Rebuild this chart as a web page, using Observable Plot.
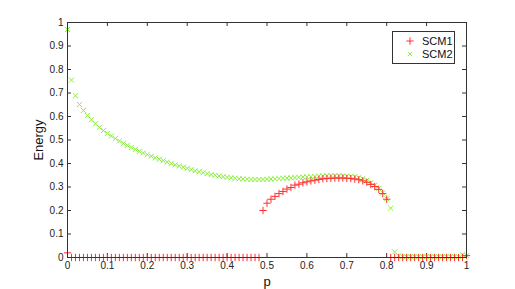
<!DOCTYPE html>
<html><head><meta charset="utf-8">
<script src="https://cdn.jsdelivr.net/npm/d3@7"></script>
<script src="https://cdn.jsdelivr.net/npm/@observablehq/plot@0.6"></script>
<style>
body{margin:0;background:#fff;}
#wrap{position:relative;width:515px;height:289px;font-family:"Liberation Sans",Arial,sans-serif;}
#legend{position:absolute;left:392px;top:31px;width:61px;height:31px;border:1px solid #333;background:#fff;font-size:11px;color:#111;}
#legend .row{position:absolute;left:0;height:14px;line-height:14px;}
#legend .t{position:absolute;left:29px;}
#legend svg{position:absolute;left:11px;top:2px;}
</style></head>
<body><div id="wrap"></div>
<script>
const p = d3.range(0, 101).map(i => i / 100);
const scm1 = [0.02,0,0,0,0,0,0,0,0,0, 0,0,0,0,0,0,0,0,0,0, 0,0,0,0,0,0,0,0,0,0, 0,0,0,0,0,0,0,0,0,0, 0,0,0,0,0,0,0,0,0,0.2,
  0.231,0.248,0.26,0.272,0.281,0.291,0.298,0.308,0.312,0.318,
  0.322,0.326,0.329,0.332,0.335,0.336,0.337,0.338,0.338,0.338,
  0.337,0.336,0.334,0.331,0.326,0.32,0.311,0.302,0.29,0.272,
  0.248,0,0,0,0,0,0,0,0,0, 0,0,0,0,0,0,0,0,0,0, 0.008];
const scm2 = [0.97,0.755,0.688,0.651,0.626,0.604,0.586,0.569,0.554,0.540,
  0.528,0.517,0.506,0.496,0.486,0.477,0.468,0.460,0.452,0.445,
  0.438,0.431,0.424,0.418,0.412,0.406,0.400,0.394,0.389,0.384,
  0.379,0.374,0.369,0.365,0.361,0.357,0.353,0.350,0.347,0.344,
  0.341,0.339,0.337,0.335,0.334,0.333,0.332,0.332,0.332,0.332,
  0.333,0.334,0.335,0.336,0.337,0.338,0.339,0.340,0.341,0.342,
  0.343,0.344,0.345,0.346,0.347,0.348,0.348,0.348,0.348,0.347,
  0.346,0.345,0.343,0.340,0.335,0.328,0.318,0.307,0.294,0.275,
  0.250,0.210,0.024,0.007,0.003,0.003,0.003,0.003,0.003,0.003,
  0.003,0.003,0.003,0.003,0.003,0.003,0.003,0.003,0.003,0.012,0.008];
const xTicks = [0,0.1,0.2,0.3,0.4,0.5,0.6,0.7,0.8,0.9,1];
const yTicks = [0,0.1,0.2,0.3,0.4,0.5,0.6,0.7,0.8,0.9,1];
const seriesNames = ["SCM1","SCM2"];
const colors = ["#ff3030","#88f03a"];

const d1 = p.map((x,i)=>({p:x, e:scm1[i]}));
const d2 = p.map((x,i)=>({p:x, e:scm2[i]}));
const fmt = d => String(+d.toFixed(1));
const W = 515, H = 289, mL = 67, mR = 49, mT = 22, mB = 32;
const iw = W - mL - mR, ih = H - mT - mB;

const chart = Plot.plot({
  width: W, height: H,
  marginLeft: mL, marginRight: mR, marginTop: mT, marginBottom: mB,
  style: {fontFamily: '"Liberation Sans", Arial, sans-serif', fontSize: "10px", color: "#222"},
  x: {domain: [0,1]},
  y: {domain: [0,1]},
  marks: [
    Plot.axisX(xTicks, {tickSize: 0, tickPadding: 4, tickFormat: fmt, fontSize: 10, label: "p", labelAnchor: "center", labelOffset: 28, labelArrow: "none"}),
    Plot.axisY(yTicks, {tickSize: 0, tickPadding: 4, tickFormat: fmt, fontSize: 10, label: "Energy", labelAnchor: "center", labelOffset: 34, labelArrow: "none"}),
    Plot.tickX(xTicks, {x: d=>d, insetTop: ih - 4, stroke: "#333"}),
    Plot.tickX(xTicks, {x: d=>d, insetBottom: ih - 4, stroke: "#333"}),
    Plot.tickY(yTicks, {y: d=>d, insetRight: iw - 4, stroke: "#333"}),
    Plot.tickY(yTicks, {y: d=>d, insetLeft: iw - 4, stroke: "#333"}),
    Plot.dot(d2, {x: "p", y: "e", symbol: "times", r: 2.4, stroke: colors[1], strokeWidth: 1}),
    Plot.dot(d1, {x: "p", y: "e", symbol: "plus", r: 2.5, stroke: colors[0], strokeWidth: 1}),
    Plot.frame({stroke: "#333"})
  ]
});
const wrap = document.getElementById("wrap");
wrap.appendChild(chart);
d3.select(chart).selectAll("g[aria-label='x-axis label'] text, g[aria-label='y-axis label'] text").style("font-size","13px").style("fill","#111");

const leg = document.createElement("div");
leg.id = "legend";
seriesNames.forEach((n,i)=>{
  const row = document.createElement("div");
  row.className = "row";
  row.style.top = (2 + i*13) + "px";
  row.style.width = "100%";
  const sym = i === 0 ? d3.symbolPlus : d3.symbolTimes;
  row.innerHTML = `<svg width="12" height="12"><path transform="translate(6,5)" d="${d3.symbol(sym, i===0?20:14)()}" fill="none" stroke="${colors[i]}"/></svg><span class="t">${n}</span>`;
  leg.appendChild(row);
});
wrap.appendChild(leg);
</script></body></html>
